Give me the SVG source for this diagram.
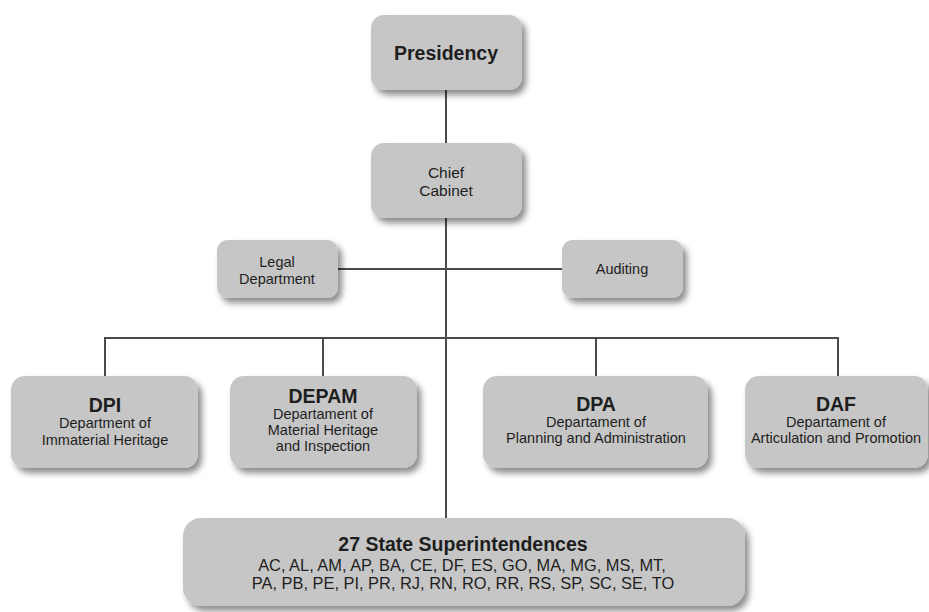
<svg xmlns="http://www.w3.org/2000/svg" width="929" height="612" viewBox="0 0 929 612">
<defs>
<filter id="sh" x="-10%" y="-10%" width="130%" height="140%">
<feDropShadow dx="4" dy="5" stdDeviation="3" flood-color="#000" flood-opacity="0.45"/>
</filter>
<style>
.box{fill:#c6c6c6;filter:url(#sh)}
.t{font-family:"Liberation Sans",Arial,sans-serif;fill:#1e1e1e;text-anchor:middle}
.b{font-weight:bold;font-size:19.5px}
.s{font-size:14.5px}
.c{stroke:#4a4a4a;stroke-width:2;fill:none}
</style>
</defs>
<rect width="929" height="612" fill="#fff"/>
<g id="connectors">
<line class="c" x1="446" y1="90" x2="446" y2="143"/>
<line class="c" x1="446" y1="218" x2="446" y2="518"/>
<line class="c" x1="338" y1="269" x2="562" y2="269"/>
<line class="c" x1="105" y1="338" x2="838" y2="338"/>
<line class="c" x1="105" y1="337" x2="105" y2="376"/>
<line class="c" x1="323" y1="337" x2="323" y2="376"/>
<line class="c" x1="596" y1="337" x2="596" y2="376"/>
<line class="c" x1="838" y1="337" x2="838" y2="376"/>
</g>
<g id="presidency">
<rect class="box" x="371" y="15" width="151" height="75" rx="13"/>
<text class="t b" x="446" y="60">Presidency</text>
</g>
<g id="chief-cabinet">
<rect class="box" x="371" y="143" width="151" height="75" rx="13"/>
<text class="t s" x="446" y="178" style="font-size:15.5px">Chief</text>
<text class="t s" x="446" y="196" style="font-size:15.5px">Cabinet</text>
</g>
<g id="legal">
<rect class="box" x="217" y="240" width="121" height="58" rx="11"/>
<text class="t s" x="277" y="267">Legal</text>
<text class="t s" x="277" y="284">Department</text>
</g>
<g id="auditing">
<rect class="box" x="562" y="240" width="121" height="58" rx="11"/>
<text class="t s" x="622" y="274">Auditing</text>
</g>
<g id="dpi">
<rect class="box" x="11" y="376" width="187" height="92" rx="14"/>
<text class="t b" x="105" y="412">DPI</text>
<text class="t s" x="105" y="428">Department of</text>
<text class="t s" x="105" y="445">Immaterial Heritage</text>
</g>
<g id="depam">
<rect class="box" x="230" y="376" width="187" height="92" rx="14"/>
<text class="t b" x="323" y="403">DEPAM</text>
<text class="t s" x="323" y="419">Departament of</text>
<text class="t s" x="323" y="435">Material Heritage</text>
<text class="t s" x="323" y="451">and Inspection</text>
</g>
<g id="dpa">
<rect class="box" x="483" y="376" width="225" height="92" rx="14"/>
<text class="t b" x="596" y="411">DPA</text>
<text class="t s" x="596" y="427">Departament of</text>
<text class="t s" x="596" y="443">Planning and Administration</text>
</g>
<g id="daf">
<rect class="box" x="745" y="376" width="183" height="92" rx="14"/>
<text class="t b" x="836" y="411">DAF</text>
<text class="t s" x="836" y="427">Departament of</text>
<text class="t s" x="836" y="443">Articulation and Promotion</text>
</g>
<g id="superintendences">
<rect class="box" x="183" y="518" width="562" height="88" rx="18"/>
<text class="t b" x="463" y="551">27 State Superintendences</text>
<text class="t s" x="462" y="571" style="font-size:16.4px">AC, AL, AM, AP, BA, CE, DF, ES, GO, MA, MG, MS, MT,</text>
<text class="t s" x="463" y="589" style="font-size:16.4px">PA, PB, PE, PI, PR, RJ, RN, RO, RR, RS, SP, SC, SE, TO</text>
</g>
</svg>
